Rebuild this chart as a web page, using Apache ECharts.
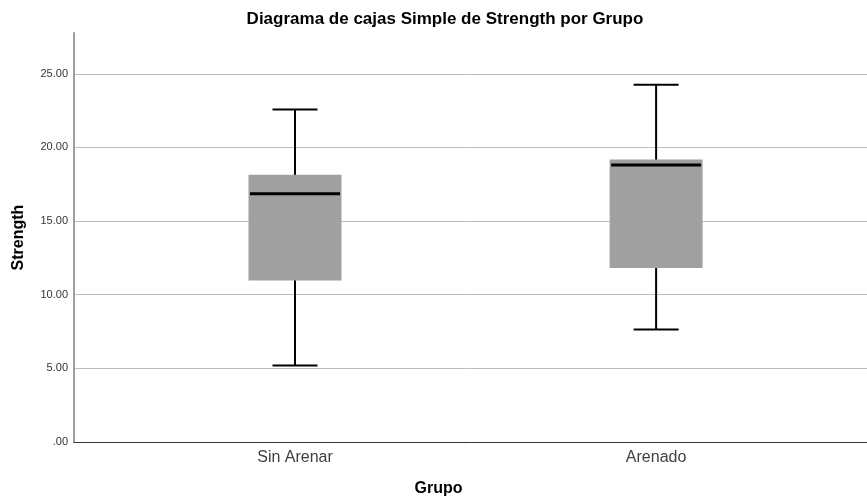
<!DOCTYPE html>
<html><head><meta charset="utf-8">
<script src="https://cdn.jsdelivr.net/npm/echarts@6/dist/echarts.min.js"></script>
<style>html,body{margin:0;padding:0;background:#fff}#c{width:867px;height:502px}</style>
</head><body><div id="c"></div>
<script>
// Data
const categories = ['Sin Arenar', 'Arenado'];
const minVals    = [5.20, 7.64];
const q1Vals     = [11.06, 11.91];
const medianVals = [16.85, 18.80];
const q3Vals     = [18.04, 19.08];
const maxVals    = [22.57, 24.26];
const yTickLabels = ['.00', '5.00', '10.00', '15.00', '20.00', '25.00'];

const positions = categories.map((c, i) => i);
const fontFam = 'Liberation Sans, Arial, sans-serif';

function xAxisCfg(visible) {
  return {
    type: 'value', gridIndex: 0, min: -0.612, max: 1.584,
    show: visible,
    splitLine: { show: false },
    axisTick: { show: false },
    axisLine: { show: true, onZero: false, lineStyle: { color: '#333', width: 1 } },
    axisLabel: {
      show: true, customValues: positions, margin: 8,
      formatter: v => categories[Math.round(v)] || '',
      fontFamily: fontFam, fontSize: 16, color: '#404040'
    },
    name: visible ? 'Grupo' : '', nameLocation: 'middle', nameGap: 39,
    nameTextStyle: { fontFamily: fontFam, fontSize: 16, fontWeight: 'bold', color: '#000', padding: [0, 64, 0, 0] }
  };
}

const whiskerData = positions.map(i => [i, minVals[i], q1Vals[i], medianVals[i], q3Vals[i], maxVals[i]]);
const boxData = positions.map(i => [i, q1Vals[i], q1Vals[i], medianVals[i], q3Vals[i], q3Vals[i]]);
const medianData = positions.map(i => [i, medianVals[i], medianVals[i], medianVals[i], medianVals[i], medianVals[i]]);

const chart = echarts.init(document.getElementById('c'), null, { renderer: 'canvas' });
chart.setOption({
  animation: false,
  backgroundColor: '#fff',
  title: {
    text: 'Diagrama de cajas Simple de Strength por Grupo',
    left: 440, top: 6, textAlign: 'center',
    textStyle: { fontFamily: fontFam, fontSize: 17, fontWeight: 'bold', color: '#000' }
  },
  grid: { left: 74, right: 0, top: 33, bottom: 58, containLabel: false },
  xAxis: [xAxisCfg(true), xAxisCfg(false), xAxisCfg(false)],
  yAxis: {
    type: 'value', min: 0, max: 27.77, interval: 5,
    axisLine: { show: true, onZero: false, lineStyle: { color: '#a0a0a0', width: 2 } },
    axisTick: { show: false },
    splitLine: { show: true, showMaxLine: false, lineStyle: { color: '#bdbdbd', width: 1 } },
    axisLabel: {
      showMaxLabel: false, margin: 6,
      formatter: v => { const k = Math.round(v / 5); return (Math.abs(v - k * 5) < 1e-6 && yTickLabels[k] !== undefined) ? yTickLabels[k] : ''; },
      fontFamily: fontFam, fontSize: 11, color: '#333'
    },
    name: 'Strength', nameLocation: 'middle', nameGap: 47,
    nameTextStyle: { fontFamily: fontFam, fontSize: 16, fontWeight: 'bold', color: '#000' }
  },
  series: [
    {
      type: 'boxplot', xAxisIndex: 0, yAxisIndex: 0, z: 2, silent: true,
      boxWidth: [45, 45], data: whiskerData,
      itemStyle: { color: '#a0a0a0', borderColor: '#000', borderWidth: 2 },
      emphasis: { disabled: true }
    },
    {
      type: 'boxplot', xAxisIndex: 1, yAxisIndex: 0, z: 3, silent: true,
      boxWidth: [90, 90], data: boxData,
      itemStyle: { color: '#a0a0a0', borderColor: '#a0a0a0', borderWidth: 3 },
      emphasis: { disabled: true }
    },
    {
      type: 'boxplot', xAxisIndex: 2, yAxisIndex: 0, z: 4, silent: true,
      boxWidth: [90, 90], data: medianData,
      itemStyle: { color: 'rgba(0,0,0,0)', borderColor: '#000', borderWidth: 3 },
      emphasis: { disabled: true }
    }
  ]
});
</script>
</body></html>
